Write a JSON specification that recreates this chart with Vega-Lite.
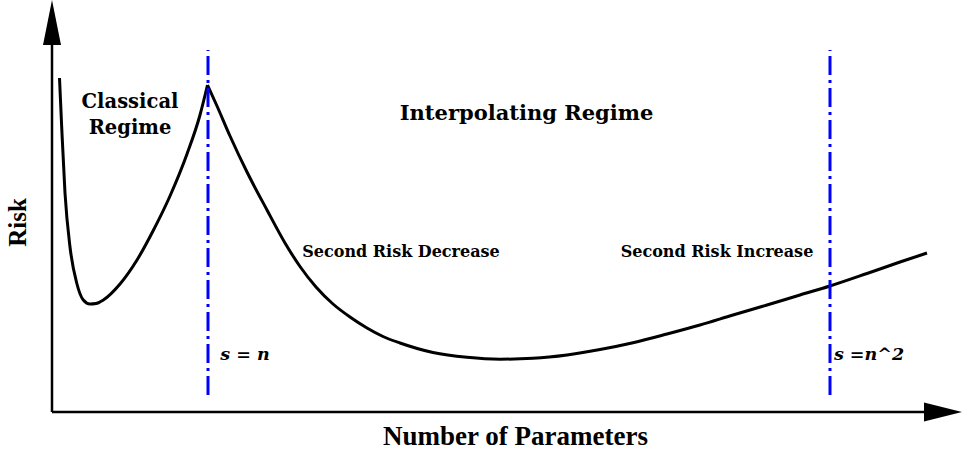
{
  "$schema": "https://vega.github.io/schema/vega-lite/v6.json",
  "width": 910,
  "height": 412,
  "autosize": "none",
  "padding": {"left": 52, "right": 0, "top": 0, "bottom": 43},
  "background": "white",
  "config": {"view": {"stroke": null}},
  "datasets": {
    "curve": [
      {"seg": "a", "x": 7.5, "y": 334},
      {"seg": "a", "x": 9.7, "y": 285},
      {"seg": "a", "x": 13, "y": 219},
      {"seg": "a", "x": 18, "y": 165},
      {"seg": "a", "x": 24.7, "y": 129},
      {"seg": "a", "x": 31.3, "y": 112},
      {"seg": "a", "x": 38, "y": 108},
      {"seg": "a", "x": 44, "y": 108.5},
      {"seg": "a", "x": 51.3, "y": 112},
      {"seg": "a", "x": 68, "y": 128},
      {"seg": "a", "x": 85, "y": 152},
      {"seg": "a", "x": 101, "y": 181},
      {"seg": "a", "x": 118, "y": 216},
      {"seg": "a", "x": 135, "y": 258},
      {"seg": "a", "x": 148, "y": 297},
      {"seg": "a", "x": 155.5, "y": 327},
      {"seg": "b", "x": 155.5, "y": 327},
      {"seg": "b", "x": 165, "y": 306},
      {"seg": "b", "x": 178, "y": 276},
      {"seg": "b", "x": 195, "y": 240},
      {"seg": "b", "x": 215, "y": 202},
      {"seg": "b", "x": 233, "y": 169},
      {"seg": "b", "x": 248, "y": 145.5},
      {"seg": "b", "x": 264, "y": 125},
      {"seg": "b", "x": 281, "y": 108},
      {"seg": "b", "x": 298, "y": 95},
      {"seg": "b", "x": 315, "y": 84},
      {"seg": "b", "x": 331, "y": 75.5},
      {"seg": "b", "x": 348, "y": 69},
      {"seg": "b", "x": 381, "y": 59.5},
      {"seg": "b", "x": 415, "y": 54.7},
      {"seg": "b", "x": 448, "y": 52.8},
      {"seg": "b", "x": 481, "y": 53.7},
      {"seg": "b", "x": 515, "y": 57},
      {"seg": "b", "x": 548, "y": 62.5},
      {"seg": "b", "x": 581, "y": 69.3},
      {"seg": "b", "x": 615, "y": 78},
      {"seg": "b", "x": 648, "y": 87},
      {"seg": "b", "x": 681, "y": 97},
      {"seg": "b", "x": 715, "y": 107},
      {"seg": "b", "x": 748, "y": 117},
      {"seg": "b", "x": 778, "y": 126},
      {"seg": "b", "x": 815, "y": 138.5},
      {"seg": "b", "x": 848, "y": 150},
      {"seg": "b", "x": 875, "y": 159}
    ],
    "vlines": [
      {"x": 156, "y": 17, "y2": 362},
      {"x": 778, "y": 17, "y2": 362}
    ],
    "axes": [
      {"x": 0, "x2": 0, "y": 0, "y2": 372},
      {"x": 0, "x2": 876, "y": 0, "y2": 0}
    ],
    "labels": [
      {"text": "Classical", "x": 78, "y": 310, "size": 19.5},
      {"text": "Regime", "x": 78, "y": 284, "size": 19.5},
      {"text": "Interpolating Regime", "x": 474.5, "y": 298, "size": 21},
      {"text": "Second Risk Decrease", "x": 349, "y": 160, "size": 16},
      {"text": "Second Risk Increase", "x": 665, "y": 160, "size": 16}
    ],
    "ilabels": [
      {"text": "s = n", "x": 193, "y": 57},
      {"text": "s =n^2", "x": 817, "y": 57}
    ]
  },
  "layer": [
    {
      "data": {"name": "curve"},
      "mark": {"type": "line", "color": "black", "strokeWidth": 3, "interpolate": "monotone", "strokeCap": "butt"},
      "encoding": {
        "x": {"field": "x", "type": "quantitative", "scale": {"domain": [0, 910], "nice": false, "zero": false},
          "axis": {"domain": false, "ticks": false, "labels": false, "grid": false, "title": "Number of Parameters",
            "titleFont": "Liberation Serif", "titleFontWeight": "bold", "titleFontSize": 27, "titleColor": "black",
            "titleX": 463, "titleY": 24, "titleBaseline": "middle", "titleAlign": "center"}},
        "y": {"field": "y", "type": "quantitative", "scale": {"domain": [0, 412], "nice": false, "zero": false},
          "axis": {"domain": false, "ticks": false, "labels": false, "grid": false, "title": "Risk",
            "titleFont": "Liberation Serif", "titleFontWeight": "bold", "titleFontSize": 25, "titleColor": "black",
            "titleX": -35, "titleY": 222, "titleBaseline": "middle", "titleAlign": "center", "titleAngle": -90}},
        "detail": {"field": "seg"}
      }
    },
    {
      "data": {"name": "vlines"},
      "mark": {"type": "rule", "color": "#0000ff", "strokeWidth": 3, "strokeDash": [19, 5, 3, 5]},
      "encoding": {
        "x": {"field": "x", "type": "quantitative"},
        "y": {"field": "y", "type": "quantitative"},
        "y2": {"field": "y2"}
      }
    },
    {
      "data": {"name": "axes"},
      "mark": {"type": "rule", "color": "black", "strokeWidth": 2.5},
      "encoding": {
        "x": {"field": "x", "type": "quantitative"},
        "x2": {"field": "x2"},
        "y": {"field": "y", "type": "quantitative"},
        "y2": {"field": "y2"}
      }
    },
    {
      "data": {"values": [{"x": 0, "y": 389.5}]},
      "mark": {"type": "point", "filled": true, "color": "black", "opacity": 1, "size": 2025, "shape": "M0,-1L0.4,1L-0.4,1Z"},
      "encoding": {
        "x": {"field": "x", "type": "quantitative"},
        "y": {"field": "y", "type": "quantitative"}
      }
    },
    {
      "data": {"values": [{"x": 891, "y": 0}]},
      "mark": {"type": "point", "filled": true, "color": "black", "opacity": 1, "size": 1444, "shape": "M1,0L-1,-0.5L-1,0.5Z"},
      "encoding": {
        "x": {"field": "x", "type": "quantitative"},
        "y": {"field": "y", "type": "quantitative"}
      }
    },
    {
      "data": {"name": "labels"},
      "mark": {"type": "text", "font": "DejaVu Serif", "fontWeight": "bold", "color": "black", "align": "center", "baseline": "middle"},
      "encoding": {
        "x": {"field": "x", "type": "quantitative"},
        "y": {"field": "y", "type": "quantitative"},
        "text": {"field": "text"},
        "size": {"field": "size", "type": "quantitative", "scale": null}
      }
    },
    {
      "data": {"name": "ilabels"},
      "mark": {"type": "text", "font": "DejaVu Serif", "fontWeight": "bold", "fontStyle": "italic", "fontSize": 17.5, "color": "black", "align": "center", "baseline": "middle"},
      "encoding": {
        "x": {"field": "x", "type": "quantitative"},
        "y": {"field": "y", "type": "quantitative"},
        "text": {"field": "text"}
      }
    }
  ]
}
